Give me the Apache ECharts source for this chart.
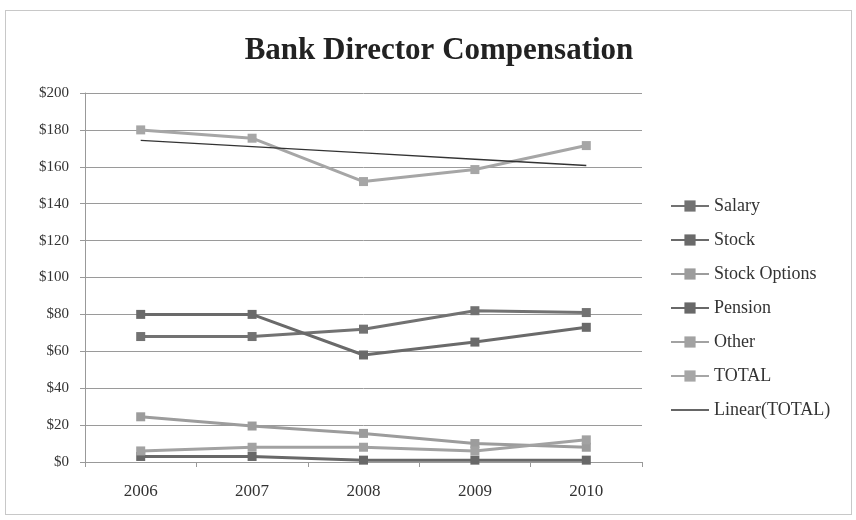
<!DOCTYPE html>
<html><head><meta charset="utf-8">
<script src="https://cdn.jsdelivr.net/npm/echarts@6/dist/echarts.min.js"></script>
<style>html,body{margin:0;padding:0;background:#fff}#c{width:856px;height:520px}
#frame{position:absolute;left:5px;top:10px;width:845px;height:503px;border:1px solid #c8c8c8;pointer-events:none}</style>
</head><body><div id="c"></div><div id="frame"></div>
<script>
const years = ['2006','2007','2008','2009','2010'];
const salary = [68, 68, 72, 82, 81];
const stock = [80, 80, 58, 65, 73];
const stockOptions = [24.5, 19.5, 15.5, 10, 8];
const pension = [3, 3, 1, 1, 1];
const other = [6, 8, 8, 6, 12];
const total = [180, 175.5, 152, 158.5, 171.5];
const yTicks = [0, 20, 40, 60, 80, 100, 120, 140, 160, 180, 200];

// Linear trendline fitted to TOTAL (least squares)
const n = total.length;
const xm = (n - 1) / 2;
const ym = total.reduce((a, b) => a + b, 0) / n;
let sxy = 0, sxx = 0;
total.forEach((v, i) => { sxy += (i - xm) * (v - ym); sxx += (i - xm) * (i - xm); });
const slope = sxy / sxx;
const linearTotal = total.map((v, i) => +(ym + slope * (i - xm)).toFixed(2));

const serif = '"Liberation Serif", "DejaVu Serif", serif';
function mk(name, data, color) {
  return { name, type: 'line', data, symbol: 'rect', symbolSize: 9,
    lineStyle: { color, width: 3 }, itemStyle: { color }, z: 3 };
}
const chart = echarts.init(document.getElementById('c'));
chart.setOption({
  animation: false,
  backgroundColor: '#fff',
  title: { text: 'Bank Director Compensation', left: 434, textAlign: 'center', top: 30,
    textStyle: { fontFamily: serif, fontSize: 31, fontWeight: 'bold', color: '#222' } },
  grid: { left: 85, right: 214, top: 93, bottom: 58 },
  legend: { orient: 'vertical', left: 665, top: 192, itemGap: 16, itemWidth: 38, itemHeight: 14,
    itemGap: 16, symbolKeepAspect: true,
    textStyle: { fontFamily: serif, fontSize: 18, color: '#333' },
    data: ['Salary','Stock','Stock Options','Pension','Other','TOTAL',
      { name: 'Linear(TOTAL)', icon: 'path://M0,0L38,0L38,1.6L0,1.6Z' }] },
  xAxis: { type: 'category', data: years, boundaryGap: true,
    axisLine: { lineStyle: { color: '#999' } },
    axisTick: { show: true, lineStyle: { color: '#999' }, length: 5 },
    axisLabel: { fontFamily: serif, fontSize: 17, color: '#333', margin: 21 } },
  yAxis: { type: 'value', min: yTicks[0], max: yTicks[yTicks.length - 1], interval: 20,
    axisLine: { show: true, lineStyle: { color: '#999' } },
    axisTick: { show: true, lineStyle: { color: '#999' }, length: 5 },
    splitLine: { lineStyle: { color: '#9a9a9a', width: 1 } },
    axisLabel: { fontFamily: serif, fontSize: 15, color: '#333', margin: 16,
      formatter: v => '$' + v } },
  series: [
    mk('Salary', salary, '#727272'),
    mk('Stock', stock, '#6a6a6a'),
    mk('Stock Options', stockOptions, '#9c9c9c'),
    mk('Pension', pension, '#686868'),
    mk('Other', other, '#a2a2a2'),
    mk('TOTAL', total, '#a6a6a6'),
    { name: 'Linear(TOTAL)', type: 'line', data: linearTotal, symbol: 'none',
      lineStyle: { color: '#333', width: 1.3 }, itemStyle: { color: '#333' }, z: 4 }
  ]
});
</script></body></html>
